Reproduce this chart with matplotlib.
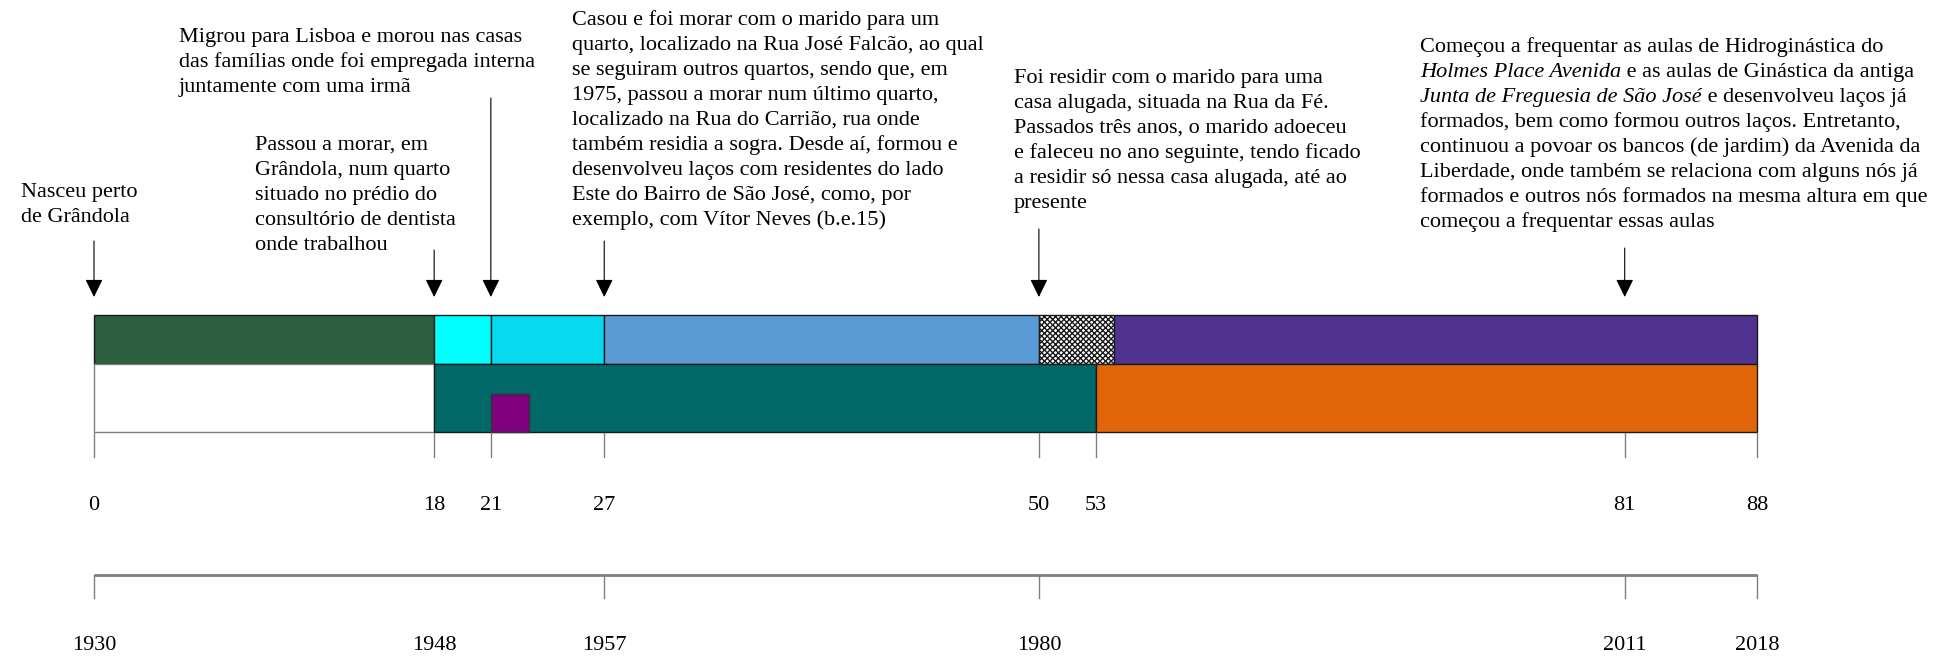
"""
Life-course timeline: residences (top row), ties (bottom row), ages and years.
Saves out.png.
"""
import matplotlib
matplotlib.use("Agg")
import matplotlib.pyplot as plt

# --- data -------------------------------------------------------------
top_starts = [0, 18, 21, 27, 50, 54]
top_ends = [18, 21, 27, 50, 54, 88]
top_colors = ["#2b5f3d", "#00ffff", "#07d9ee", "#5b9bd5", "white", "#503290"]
top_hatch = [None, None, None, None, "xxxxxx", None]

bottom_starts = [0, 18, 53]
bottom_ends = [18, 53, 88]
bottom_colors = ["white", "#016868", "#e3650a"]

square_start, square_end = 21, 23
square_color = "#800080"

age_ticks = [0, 18, 21, 27, 50, 53, 81, 88]
birth_year = 1930
year_labels = [1930, 1948, 1957, 1980, 2011, 2018]
year_ticks = [1930, 1957, 1980, 2011, 2018]

arrow_ages = [0, 18, 21, 27, 50, 81]
arrow_tops = [241, 250, 98, 241, 229, 248]   # pixel row where each shaft starts

# each block: (x in px, first baseline in px, lines); a line is a list of
# (text, italic) pieces
notes = [
    (21, 197, [[("Nasceu perto", False)], [("de Grândola", False)]]),
    (255, 150, [[("Passou a morar, em", False)],
                [("Grândola, num quarto", False)],
                [("situado no prédio do", False)],
                [("consultório de dentista", False)],
                [("onde trabalhou", False)]]),
    (179, 42, [[("Migrou para Lisboa e morou nas casas", False)],
               [("das famílias onde foi empregada interna", False)],
               [("juntamente com uma irmã", False)]]),
    (572, 25, [[("Casou e foi morar com o marido para um", False)],
               [("quarto, localizado na Rua José Falcão, ao qual", False)],
               [("se seguiram outros quartos, sendo que, em", False)],
               [("1975, passou a morar num último quarto,", False)],
               [("localizado na Rua do Carrião, rua onde", False)],
               [("também residia a sogra. Desde aí, formou e", False)],
               [("desenvolveu laços com residentes do lado", False)],
               [("Este do Bairro de São José, como, por", False)],
               [("exemplo, com Vítor Neves (b.e.15)", False)]]),
    (1014, 83, [[("Foi residir com o marido para uma", False)],
                [("casa alugada, situada na Rua da Fé.", False)],
                [("Passados três anos, o marido adoeceu", False)],
                [("e faleceu no ano seguinte, tendo ficado", False)],
                [("a residir só nessa casa alugada, até ao", False)],
                [("presente", False)]]),
    (1420, 52, [[("Começou a frequentar as aulas de Hidroginástica do", False)],
                [("Holmes Place Avenida", True), (" e as aulas de Ginástica da antiga", False)],
                [("Junta de Freguesia de São José", True), (" e desenvolveu laços já", False)],
                [("formados, bem como formou outros laços. Entretanto,", False)],
                [("continuou a povoar os bancos (de jardim) da Avenida da", False)],
                [("Liberdade, onde também se relaciona com alguns nós já", False)],
                [("formados e outros nós formados na mesma altura em que", False)],
                [("começou a frequentar essas aulas", False)]]),
]

# --- layout -----------------------------------------------------------
W, H = 1943, 661
X0, X88 = 94, 1757
k = (X88 - X0) / 88.0          # pixels per year of age
FONT = "Liberation Serif"
FS = 16
LINE = 25


def px(x):
    return (x - X0) / k


fig = plt.figure(figsize=(W / 100, H / 100), dpi=100)
ax = fig.add_axes([0, 0, 1, 1])
ax.set_xlim(px(0), px(W))
ax.set_ylim(H, 0)
ax.axis("off")

# top row
for s, e, c, h in zip(top_starts, top_ends, top_colors, top_hatch):
    ax.barh(339.5, e - s, left=s, height=49, color=c, edgecolor="#1a1a1a",
            linewidth=1.0, hatch=h)
# bottom row
for s, e, c in zip(bottom_starts, bottom_ends, bottom_colors):
    ax.barh(398, e - s, left=s, height=68, color=c,
            edgecolor="#7f7f7f" if c == "white" else "#1a1a1a", linewidth=1.0)
ax.barh(413, square_end - square_start, left=square_start, height=38,
        color=square_color, edgecolor="#333333", linewidth=1.0)

# arrows
for a, top in zip(arrow_ages, arrow_tops):
    ax.annotate("", xy=(a, 297), xytext=(a, top),
                arrowprops=dict(arrowstyle="-|>,head_length=0.55,head_width=0.27",
                                mutation_scale=20, color="black", lw=0.8,
                                shrinkA=0, shrinkB=0))

# age ticks and labels
for a in age_ticks:
    ax.plot([a, a], [433, 457], color="#7f7f7f", lw=1)
    ax.text(a, 506, str(a), ha="center", va="center", fontsize=FS, family=FONT)

# year axis
ax.plot([0, 88], [575, 575], color="#7f7f7f", lw=2, solid_capstyle="butt")
for y in year_ticks:
    ax.plot([y - birth_year] * 2, [575, 598], color="#7f7f7f", lw=1)
for y in year_labels:
    ax.text(y - birth_year, 645, str(y), ha="center", va="center",
            fontsize=FS, family=FONT)

# notes
for x, base, lines in notes:
    for i, pieces in enumerate(lines):
        yy = base + i * LINE
        prev = None
        for txt, it in pieces:
            style = "italic" if it else "normal"
            if prev is None:
                prev = ax.text(px(x), yy, txt, ha="left", va="baseline",
                               fontsize=FS, family=FONT, style=style)
            else:
                prev = ax.annotate(txt, xy=(1, yy), xycoords=(prev, "data"),
                                   ha="left", va="baseline", fontsize=FS,
                                   family=FONT, style=style)

fig.savefig("out.png", dpi=100)
plt.close(fig)
